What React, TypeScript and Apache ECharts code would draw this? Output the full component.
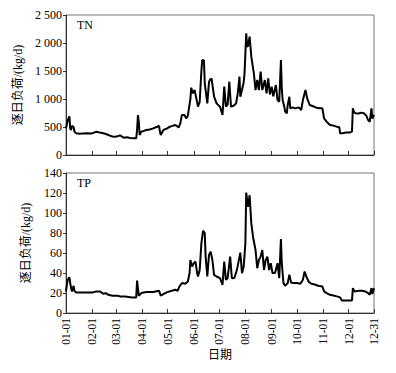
import React, { useEffect, useRef } from 'react';
import * as echarts from 'echarts';

const tickDays = [0, 31, 59, 90, 120, 151, 181, 212, 243, 273, 304, 334, 364];
const tickLabels = ['01-01', '02-01', '03-01', '04-01', '05-01', '06-01', '07-01', '08-01', '09-01', '10-01', '11-01', '12-01', '12-31'];

const tnDays = [0, 2, 4, 5, 6, 7, 9, 10, 12, 16, 20, 25, 30, 33, 36, 40, 44, 48, 52, 55, 58, 61, 64, 66, 68, 72, 76, 80, 83, 84, 85, 86, 87, 89, 92, 95, 99, 103, 107, 110, 111, 112, 115, 119, 123, 126, 129, 131, 133, 135, 137, 140, 142, 144, 145, 147, 148, 149, 150, 152, 154, 156, 158, 160, 161, 163, 164, 167, 169, 170, 172, 174, 175, 178, 182, 185, 187, 189, 191, 193, 195, 198, 201, 203, 205, 206, 208, 210, 211, 213, 214, 215, 217, 219, 222, 224, 226, 228, 230, 232, 235, 237, 239, 241, 243, 245, 248, 250, 252, 254, 255, 256, 258, 259, 261, 262, 264, 265, 268, 271, 275, 278, 280, 283, 285, 288, 292, 296, 300, 303, 305, 308, 312, 316, 320, 323, 324, 327, 331, 335, 338, 339, 340, 342, 346, 349, 352, 355, 357, 359, 361, 362, 364];
const tnValues = [476, 620, 690, 470, 446, 520, 500, 420, 387, 380, 385, 390, 385, 400, 416, 400, 387, 370, 345, 330, 327, 335, 350, 330, 310, 315, 305, 300, 298, 450, 714, 600, 357, 417, 430, 446, 455, 476, 500, 518, 420, 357, 446, 470, 506, 520, 535, 520, 488, 560, 714, 714, 655, 700, 804, 1000, 1202, 1150, 1101, 1160, 1012, 863, 950, 1500, 1696, 1690, 1280, 922, 1300, 1339, 1369, 1150, 1041, 922, 863, 714, 1220, 863, 900, 1309, 863, 880, 920, 1101, 1399, 1041, 1160, 1300, 1458, 2172, 1950, 1934, 2113, 1756, 1458, 1160, 1339, 1160, 1488, 1160, 1339, 1101, 1369, 1080, 1220, 1050, 1250, 982, 952, 1696, 1200, 982, 863, 774, 744, 893, 1041, 833, 850, 833, 850, 804, 982, 1160, 1012, 893, 870, 845, 833, 833, 655, 595, 535, 525, 506, 494, 387, 390, 400, 400, 417, 833, 780, 744, 740, 756, 745, 700, 625, 595, 833, 650, 714];

const tpDays = [0, 1, 2, 4, 5, 6, 7, 8, 9, 10, 12, 20, 32, 36, 40, 44, 47, 50, 55, 61, 64, 70, 78, 83, 84, 85, 86, 89, 95, 103, 110, 112, 115, 119, 125, 129, 132, 134, 137, 141, 144, 146, 147, 149, 151, 153, 155, 156, 158, 160, 162, 164, 165, 167, 169, 171, 173, 175, 178, 182, 185, 187, 189, 191, 194, 196, 199, 202, 206, 208, 210, 212, 213, 215, 217, 219, 221, 224, 226, 228, 230, 232, 234, 236, 238, 240, 242, 244, 247, 250, 252, 254, 255, 257, 259, 262, 264, 266, 269, 273, 277, 280, 282, 284, 287, 290, 294, 298, 303, 305, 308, 312, 316, 320, 324, 326, 332, 338, 339, 341, 346, 350, 354, 357, 359, 361, 362, 364];
const tpValues = [21.6, 28, 33.2, 35.8, 30, 24.9, 21.6, 24, 27.2, 22, 20.6, 20.6, 20.6, 21.6, 21.6, 19.2, 19.9, 18.2, 17.3, 17.3, 16.6, 16.6, 15.6, 15.6, 32.5, 25, 17.3, 19.9, 20.9, 20.9, 22.2, 17.3, 18.9, 20.6, 22.2, 23.2, 22.2, 26.5, 29.9, 29.2, 31.5, 39.8, 53, 46.4, 49.8, 51.4, 39.8, 36.5, 43, 69.7, 82.3, 79.6, 56.4, 36.5, 58, 61.4, 53, 38.2, 36.5, 34.8, 28.2, 51.4, 33.2, 34.8, 56.4, 34.8, 35, 43.1, 60.4, 39.8, 46.4, 69.7, 120.4, 106.2, 117.8, 89.6, 76.3, 63, 44.8, 53, 56.4, 63, 43.1, 53, 56.4, 43, 49.8, 40, 40, 49.8, 34.8, 74, 50, 29.9, 27.2, 30, 38.2, 30.5, 29.9, 29.9, 29.2, 33.2, 41.5, 36.5, 31, 29.2, 28.5, 27.2, 26.5, 21.6, 19.9, 18.2, 17.5, 16.6, 15.6, 12.6, 12.6, 12.6, 24.9, 21.6, 22.2, 22.2, 21.5, 19.9, 18.2, 24.9, 19, 24.9];

const panelNames = ['TN', 'TP'];
const yAxisTitle = '逐日负荷/(kg/d)';
const xAxisTitle = '日期';

const SERIF = '"Liberation Serif", "Times New Roman", "Noto Sans CJK SC", serif';

function fmtThousands(v: number): string {
  if (v >= 1000) {
    const t = Math.floor(v / 1000);
    const r = String(v % 1000).padStart(3, '0');
    return `${t} ${r}`;
  }
  return String(v);
}

export default function App() {
  const ref = useRef<HTMLDivElement>(null);
  useEffect(() => {
    document.body.style.margin = '0';
    if (!ref.current) return;
    const chart = echarts.init(ref.current, undefined, { renderer: 'svg' });
    const labelMap: Record<number, string> = {};
    tickDays.forEach((d, i) => (labelMap[d] = tickLabels[i]));

    const makeX = (gridIndex: number, showLabels: boolean) => ({
      type: 'value',
      gridIndex,
      min: 0,
      max: 364,
      name: showLabels ? xAxisTitle : '',
      nameLocation: 'middle',
      nameGap: 36,
      nameTextStyle: { fontFamily: SERIF, fontSize: 12, color: '#000' },
      axisLine: { show: true, lineStyle: { color: '#333', width: 1 } },
      axisTick: { show: true, inside: true, length: 4, customValues: tickDays, lineStyle: { color: '#333' } },
      axisLabel: {
        show: showLabels,
        customValues: tickDays,
        rotate: 90,
        margin: 5,
        fontFamily: SERIF,
        fontSize: 11.5,
        color: '#000',
        formatter: (v: number) => labelMap[v] ?? '',
      },
      splitLine: { show: false },
    });

    const makeY = (gridIndex: number, max: number, interval: number, fmt: (v: number) => string) => ({
      type: 'value',
      gridIndex,
      min: 0,
      max,
      interval,
      name: yAxisTitle,
      nameLocation: 'middle',
      nameGap: 34,
      nameRotate: 90,
      nameTextStyle: { fontFamily: SERIF, fontSize: 12, color: '#000' },
      axisLine: { show: true, lineStyle: { color: '#333', width: 1 } },
      axisTick: { show: true, inside: false, length: 3, lineStyle: { color: '#333' } },
      axisLabel: { fontFamily: SERIF, fontSize: 12, color: '#000', margin: 4, formatter: fmt },
      splitLine: { show: false },
    });

    chart.setOption({
      animation: false,
      backgroundColor: '#fff',
      grid: [
        { left: 66, width: 308, top: 15, height: 140, show: true, borderColor: '#777', borderWidth: 1 },
        { left: 66, width: 308, top: 173, height: 140, show: true, borderColor: '#777', borderWidth: 1 },
      ],
      xAxis: [makeX(0, false), makeX(1, true)],
      yAxis: [
        makeY(0, 2500, 500, fmtThousands),
        makeY(1, 140, 20, (v: number) => String(v)),
      ],
      graphic: [
        { type: 'text', left: 77, top: 19, style: { text: panelNames[0], font: `12px ${SERIF}`, fill: '#000' } },
        { type: 'text', left: 77, top: 177, style: { text: panelNames[1], font: `12px ${SERIF}`, fill: '#000' } },
      ],
      series: [
        {
          type: 'line',
          name: panelNames[0],
          xAxisIndex: 0,
          yAxisIndex: 0,
          data: tnDays.map((d, i) => [d, tnValues[i]]),
          showSymbol: false,
          silent: true,
          lineStyle: { color: '#000', width: 2 },
        },
        {
          type: 'line',
          name: panelNames[1],
          xAxisIndex: 1,
          yAxisIndex: 1,
          data: tpDays.map((d, i) => [d, tpValues[i]]),
          showSymbol: false,
          silent: true,
          lineStyle: { color: '#000', width: 2 },
        },
      ],
    });
    return () => chart.dispose();
  }, []);
  return <div ref={ref} style={{ width: 396, height: 373 }} />;
}
